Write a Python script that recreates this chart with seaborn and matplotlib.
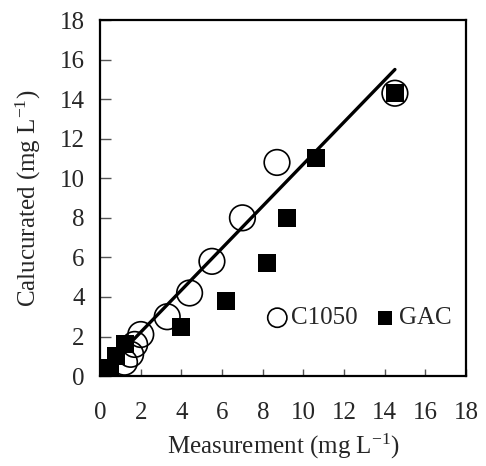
import matplotlib
matplotlib.use("Agg")
import matplotlib.pyplot as plt
import seaborn as sns
import pandas as pd

# Data
c1050_meas = [1.2, 1.5, 1.7, 2.0, 3.3, 4.4, 5.5, 7.0, 8.7, 14.5]
c1050_calc = [0.7, 1.1, 1.6, 2.1, 3.0, 4.2, 5.8, 8.0, 10.8, 14.3]
gac_meas = [0.5, 0.8, 1.2, 4.0, 6.2, 8.2, 9.2, 10.6, 14.5]
gac_calc = [0.4, 1.0, 1.6, 2.5, 3.8, 5.7, 8.0, 11.0, 14.3]
fit_x = [1.0, 14.5]
fit_y = [1.16, 15.5]
ticks = [0, 2, 4, 6, 8, 10, 12, 14, 16, 18]

sns.set_style("white")
plt.rcParams['font.family'] = ['Liberation Serif', 'DejaVu Serif']
plt.rcParams['mathtext.fontset'] = 'custom'
plt.rcParams['mathtext.rm'] = 'Liberation Serif'
plt.rcParams['mathtext.it'] = 'Liberation Serif'

FS = 18

fig = plt.figure(figsize=(4.86, 4.66), dpi=100)
ax = fig.add_axes([0.206, 0.193, 0.753, 0.764])

df_c = pd.DataFrame({"x": c1050_meas, "y": c1050_calc})
df_g = pd.DataFrame({"x": gac_meas, "y": gac_calc})
df_f = pd.DataFrame({"x": fit_x, "y": fit_y})

sns.scatterplot(data=df_g, x="x", y="y", ax=ax, marker="s", s=170,
                color="black", edgecolor="black", linewidth=0, zorder=3, label="GAC")
sns.scatterplot(data=df_c, x="x", y="y", ax=ax, marker="o", s=340,
                facecolor="none", edgecolor="black", linewidth=1.2, zorder=4, label="C1050")
sns.lineplot(data=df_f, x="x", y="y", ax=ax, color="black", linewidth=2.4, zorder=5)

ax.set_xlim(0, 18)
ax.set_ylim(0, 18)
ax.set_xticks(ticks)
ax.set_yticks(ticks)
ax.set_xticklabels([str(t) for t in ticks], fontsize=FS)
ax.set_yticklabels([str(t) for t in ticks], fontsize=FS)
ax.tick_params(axis='x', direction='in', length=5, width=1, color='#555555', pad=19, bottom=True)
ax.tick_params(axis='y', direction='in', length=8, width=1, color='#555555', pad=11, left=True)
for sp in ax.spines.values():
    sp.set_linewidth(1.6)
    sp.set_color('black')
    sp.set_visible(True)

ax.set_xlabel("Measurement (mg L$^{-1}$)", fontsize=FS, labelpad=5)
ax.set_ylabel("Calucurated (mg L$^{-1}$)", fontsize=FS, labelpad=12)

handles, labels = ax.get_legend_handles_labels()
order = [labels.index("C1050"), labels.index("GAC")]
leg = ax.legend([handles[i] for i in order], [labels[i] for i in order],
                loc='center left', bbox_to_anchor=(0.45, 0.163), ncol=2, frameon=False,
                fontsize=FS, handletextpad=0.05, handlelength=1.0, columnspacing=0.6,
                markerscale=0.75, borderaxespad=0, borderpad=0)

fig.savefig("out.png", dpi=100)
